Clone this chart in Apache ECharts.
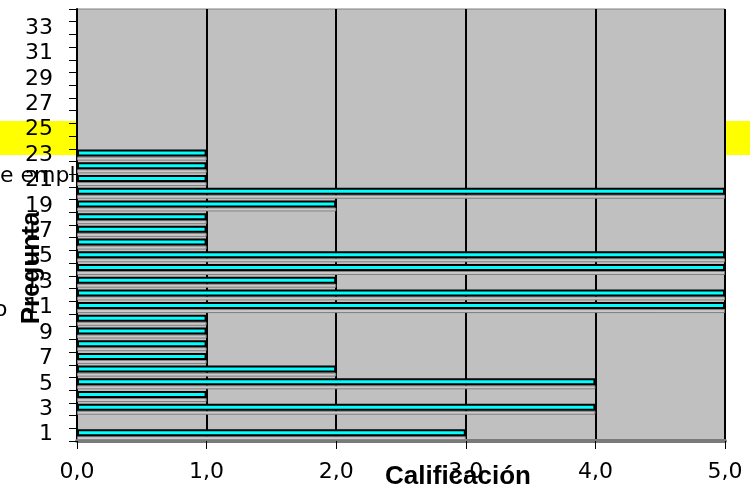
<!DOCTYPE html>
<html>
<head>
<meta charset="utf-8">
<script src="https://cdn.jsdelivr.net/npm/echarts@6/dist/echarts.min.js"></script>
<style>
  html, body { margin: 0; padding: 0; background: #ffffff; }
  #chart { width: 750px; height: 490px; }
</style>
</head>
<body>
<div id="chart"></div>
<script>
// Question numbers 1..34 on the vertical axis
const preguntas = ['1','2','3','4','5','6','7','8','9','10','11','12','13','14','15','16','17',
                   '18','19','20','21','22','23','24','25','26','27','28','29','30','31','32','33','34'];
// Score per question (null = no answer)
const calificacion = [3, null, 4, 1, 4, 2, 1, 1, 1, 1, 5, 5, 2, 5, 5, 1, 1,
                      1, 2, 5, 1, 1, 1, null, null, null, null, null, null, null, null, null, null, null];
// Score axis range and step
const escalaMin = 0;
const escalaMax = 5;
const escalaPaso = 1;

const FONT = '"Liberation Sans", Arial, sans-serif';
const FONT_TICKS = '"DejaVu Sans", sans-serif';

const chart = echarts.init(document.getElementById('chart'), null, { renderer: 'canvas' });

chart.setOption({
  backgroundColor: '#ffffff',
  animation: false,
  grid: {
    left: 77, right: 25, top: 9, bottom: 49,
    show: true,
    backgroundColor: '#c0c0c0',
    borderColor: '#808080',
    borderWidth: 1,
    z: 0
  },
  xAxis: {
    type: 'value',
    min: escalaMin,
    max: escalaMax,
    interval: escalaPaso,
    axisLine: { show: true, lineStyle: { color: '#7a7a7a', width: 4 } },
    axisTick: { show: true, length: 8, lineStyle: { color: '#000', width: 1 } },
    axisLabel: {
      margin: 20,
      color: '#000',
      fontFamily: FONT_TICKS,
      fontSize: 22,
      formatter: v => v.toFixed(1).replace('.', ',')
    },
    splitLine: { show: true, lineStyle: { color: '#000', width: 2 } }
  },
  yAxis: {
    type: 'category',
    data: preguntas,
    boundaryGap: true,
    axisLine: { show: true, lineStyle: { color: '#000', width: 2 } },
    axisTick: { show: true, interval: 0, length: 8, lineStyle: { color: '#000', width: 1 } },
    axisLabel: {
      interval: 1,
      margin: 24,
      color: '#000',
      fontFamily: FONT_TICKS,
      fontSize: 22
    },
    splitLine: { show: false }
  },
  graphic: [
    // highlight band behind row 25
    { type: 'rect', z: -10, shape: { x: 0, y: 121, width: 750, height: 34 }, style: { fill: '#ffff00' } },
    // labels running off the left edge
    { type: 'text', z: -5, left: -14, top: 165,
      style: { text: 'de empleo', font: '22px ' + FONT_TICKS, fill: '#000' } },
    { type: 'text', z: -5, left: -6, top: 299,
      style: { text: 'o', font: '22px ' + FONT_TICKS, fill: '#000' } },
    // axis titles
    { type: 'text', z: 50, x: 32, y: 268, rotation: Math.PI / 2,
      style: { text: 'Pregunta', font: 'bold 26px ' + FONT, fill: '#000', align: 'center', verticalAlign: 'middle' } },
    { type: 'text', z: 50, x: 458, y: 477,
      style: { text: 'Calificación', font: 'bold 26px ' + FONT, fill: '#000', align: 'center', verticalAlign: 'middle' } }
  ],
  series: [
    {
      name: 'valor',
      type: 'bar',
      data: calificacion,
      barWidth: 7,
      barGap: '0%',
      itemStyle: { color: '#00ffff', borderColor: '#000', borderWidth: 2 },
      z: 3
    },
    {
      name: 'franja',
      type: 'bar',
      data: calificacion,
      barWidth: 4,
      barGap: '0%',
      silent: true,
      itemStyle: { color: '#cacaca', borderColor: '#7f7f7f', borderWidth: 1 },
      z: 2
    }
  ]
});
</script>
</body>
</html>
